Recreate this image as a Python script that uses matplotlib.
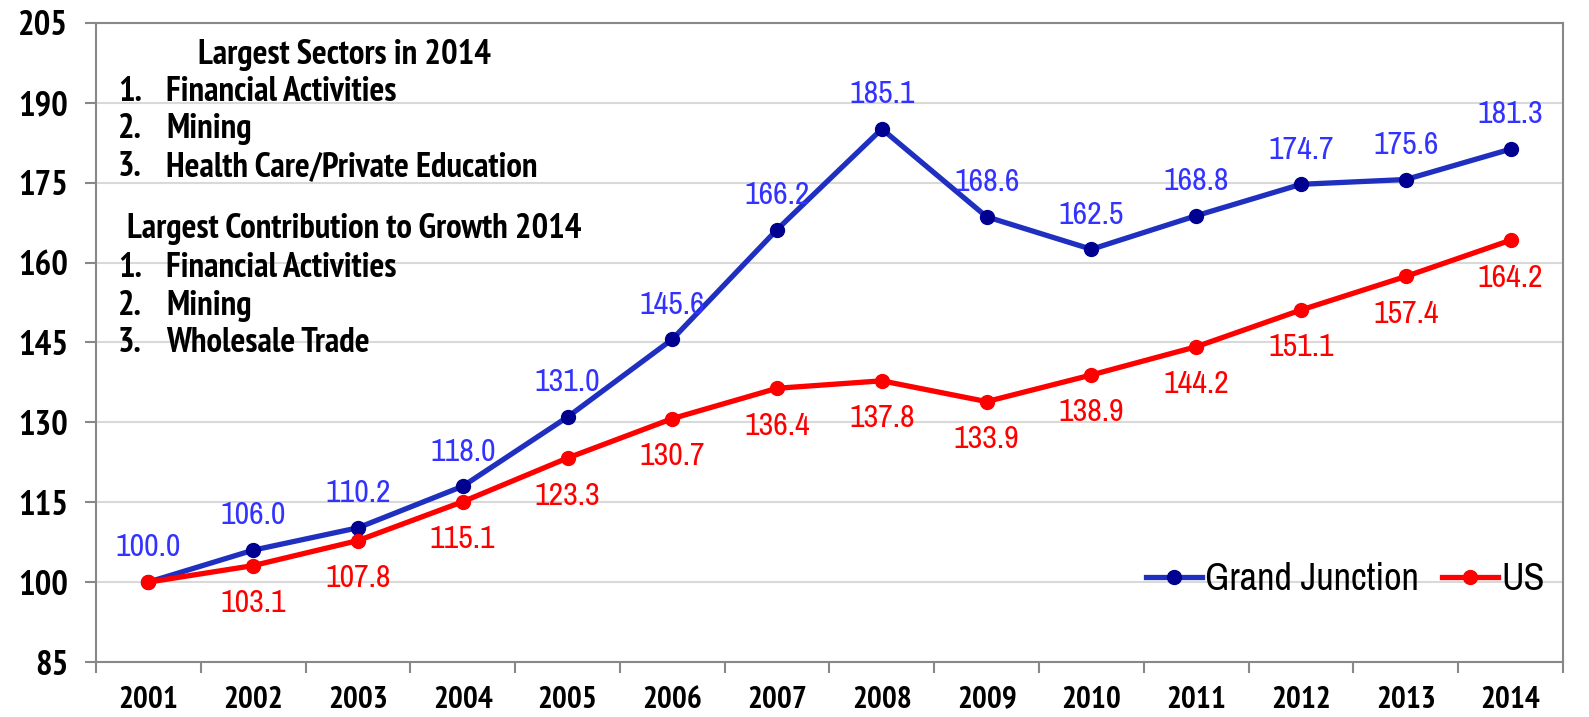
import matplotlib
matplotlib.use("Agg")
import matplotlib.pyplot as plt
from matplotlib import font_manager
from matplotlib.font_manager import FontProperties

years = ["2001", "2002", "2003", "2004", "2005", "2006", "2007", "2008",
         "2009", "2010", "2011", "2012", "2013", "2014"]
grand_junction = [100.0, 106.0, 110.2, 118.0, 131.0, 145.6, 166.2, 185.1,
                  168.6, 162.5, 168.8, 174.7, 175.6, 181.3]
us = [100.0, 103.1, 107.8, 115.1, 123.3, 130.7, 136.4, 137.8,
      133.9, 138.9, 144.2, 151.1, 157.4, 164.2]
us_labeled = [False] + [True] * 13
y_ticks = [85, 100, 115, 130, 145, 160, 175, 190, 205]

sectors_title = "Largest Sectors in 2014"
sectors = ["Financial Activities", "Mining", "Health Care/Private Education"]
growth_title = "Largest Contribution to Growth 2014"
growth = ["Financial Activities", "Mining", "Wholesale Trade"]

reg_file = None
bold_file = None
for f in font_manager.fontManager.ttflist:
    key = (f.name + " " + f.fname).lower()
    if "narrow" not in key or "italic" in key or "oblique" in key:
        continue
    fn = f.fname.lower()
    w = f.weight if isinstance(f.weight, int) else (700 if "bold" in str(f.weight) else 400)
    if "bold" in fn or w >= 600:
        bold_file = bold_file or f.fname
    else:
        reg_file = reg_file or f.fname

def fp(size, bold=False):
    if bold:
        if bold_file:
            return FontProperties(fname=bold_file, size=size)
        return FontProperties(family=["Liberation Sans", "DejaVu Sans"], weight="bold", size=size * 0.85)
    if reg_file:
        return FontProperties(fname=reg_file, size=size)
    return FontProperties(family=["Liberation Sans", "DejaVu Sans"], size=size * 0.85)

fig = plt.figure(figsize=(15.89, 7.17), dpi=100)
ax = fig.add_axes([0.0604, 0.0767, 0.9232, 0.8913])

x = list(range(len(years)))
blue_line = "#1f2fbf"
blue_mark = "#000090"
blue_text = "#3333ff"
red = "#ff0000"

ax.plot(x, grand_junction, color=blue_line, lw=3.8, marker="o", ms=10,
        mfc=blue_mark, mec=blue_mark, label="Grand Junction", zorder=3)
ax.plot(x, us, color=red, lw=3.8, marker="o", ms=10,
        mfc=red, mec=red, label="US", zorder=4)

lab_fp = fp(23)
for xi, v in zip(x, grand_junction):
    ax.annotate(f"{v:.1f}", (xi, v), xytext=(0, 25), textcoords="offset points",
                ha="center", va="center", color=blue_text, fontproperties=lab_fp)
for xi, v, lab in zip(x, us, us_labeled):
    if lab:
        ax.annotate(f"{v:.1f}", (xi, v), xytext=(0, -27), textcoords="offset points",
                    ha="center", va="center", color=red, fontproperties=lab_fp)

ax.set_xlim(-0.5, len(years) - 0.5)
ax.set_ylim(85, 205)
ax.set_yticks(y_ticks)
ax.set_yticklabels([str(t) for t in y_ticks], fontproperties=fp(25, True))
ax.set_xticks(x)
ax.set_xticklabels(years, fontproperties=fp(22.5, True))
ax.set_xticks([i + 0.5 for i in range(-1, len(years))], minor=True)
ax.tick_params(axis="x", which="major", length=0, pad=17)
ax.tick_params(axis="x", which="minor", length=8, width=1.5, color="#888888")
ax.tick_params(axis="y", length=8, width=1.5, color="#888888", pad=12)
ax.grid(axis="y", color="#d9d9d9", lw=1.5, zorder=0)
for s in ax.spines.values():
    s.set_color("#888888")
    s.set_linewidth(1.5)

tfp = fp(25, True)
trans = ax.transAxes
def px(xp, yp):
    return ((xp - 96) / 1467, (662 - yp) / 639)

ax.text(*px(345, 55), sectors_title, transform=trans, ha="center", va="center",
        fontproperties=tfp)
for i, (yp, s) in enumerate(zip([92, 129, 167], sectors)):
    ax.text(*px(118, yp), f"{i+1}.", transform=trans, ha="left", va="center", fontproperties=tfp)
    ax.text(*px(166, yp), s, transform=trans, ha="left", va="center", fontproperties=tfp)
ax.text(*px(354, 229), growth_title, transform=trans, ha="center", va="center",
        fontproperties=tfp)
for i, (yp, s) in enumerate(zip([268, 306, 343], growth)):
    ax.text(*px(118, yp), f"{i+1}.", transform=trans, ha="left", va="center", fontproperties=tfp)
    ax.text(*px(166, yp), s, transform=trans, ha="left", va="center", fontproperties=tfp)

ax.legend(loc="lower right", bbox_to_anchor=(0.998, 0.078), ncol=2, frameon=False,
          prop=fp(27.5), handlelength=1.45, handletextpad=0.1, columnspacing=0.6,
          borderaxespad=0)

fig.savefig("out.png", dpi=100)
